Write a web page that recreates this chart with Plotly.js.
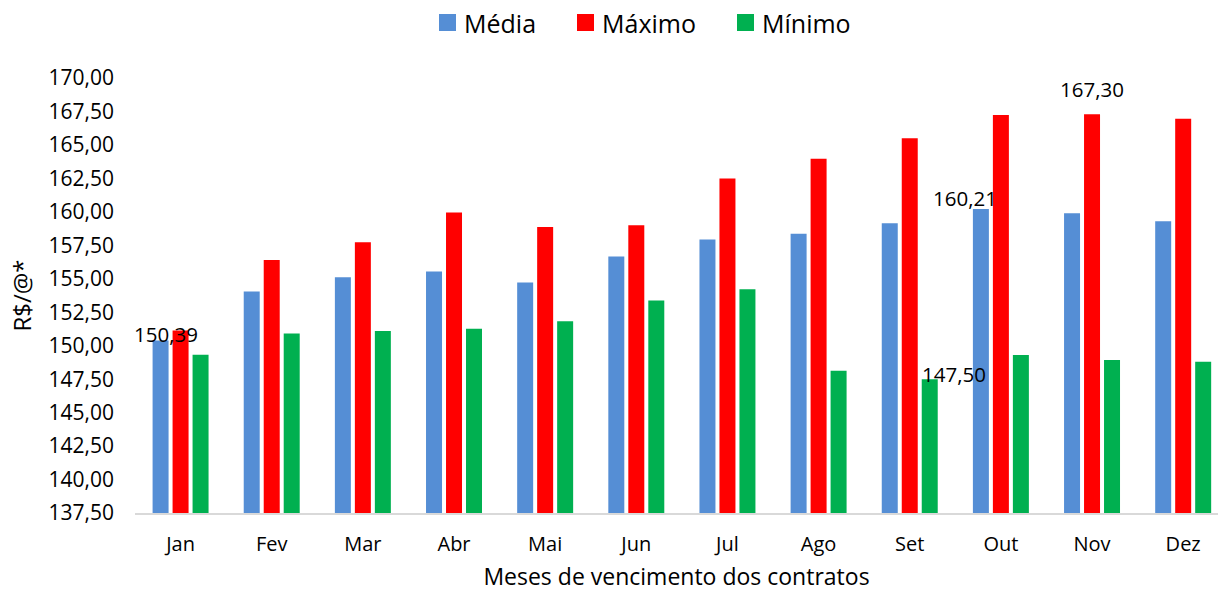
<!DOCTYPE html>
<html>
<head>
<meta charset="utf-8">
<script src="https://cdn.plot.ly/plotly-3.0.1.min.js"></script>
<style>
  html, body { margin: 0; padding: 0; background: #ffffff; }
  #chart { width: 1218px; height: 592px; }
</style>
</head>
<body>
<div id="chart"></div>
<script>
// Monthly contract prices (R$/@)
const months = ['Jan', 'Fev', 'Mar', 'Abr', 'Mai', 'Jun', 'Jul', 'Ago', 'Set', 'Out', 'Nov', 'Dez'];
const media  = [150.39, 154.05, 155.12, 155.55, 154.73, 156.67, 157.94, 158.37, 159.14, 160.21, 159.89, 159.29];
const maximo = [151.14, 156.40, 157.72, 159.96, 158.86, 158.99, 162.50, 163.97, 165.49, 167.23, 167.30, 166.96];
const minimo = [149.33, 150.92, 151.09, 151.27, 151.82, 153.38, 154.21, 148.13, 147.50, 149.30, 148.93, 148.80];
const seriesNames = ['Média', 'Máximo', 'Mínimo'];
const seriesColors = ['#558ED5', '#FF0000', '#00B050'];
const yTicks = [137.5, 140, 142.5, 145, 147.5, 150, 152.5, 155, 157.5, 160, 162.5, 165, 167.5, 170];

const FONT = 'Open Sans, Noto Sans, sans-serif';
const idx = months.map((_, i) => i);
const Y0 = 137.5;

function fmt(v) { return v.toFixed(2).replace('.', ','); }

const traces = [media, maximo, minimo].map((vals, k) => ({
  type: 'bar',
  name: seriesNames[k],
  x: idx,
  y: vals.map(v => v - Y0),
  base: Y0,
  marker: { color: seriesColors[k] },
  hoverinfo: 'skip'
}));

// Value labels placed beside selected bars: [series, month index, x offset px, y offset px]
const labelSpecs = [
  [media, 0, -15, 6],
  [media, 9, -36, 11],
  [minimo, 8, 44, 5],
  [maximo, 10, 0, 25]
];
const annotations = labelSpecs.map(([arr, i, dx, dy]) => ({
  x: i, y: arr[i], xref: 'x', yref: 'y',
  text: fmt(arr[i]),
  showarrow: false,
  xanchor: 'center', yanchor: 'middle',
  xshift: dx, yshift: dy,
  font: { family: FONT, size: 20.5, color: '#000000' }
}));

// Legend row across the top: square swatch followed by the series name
const PLOT_L = 135, PLOT_W = 1083, PLOT_T = 78, PLOT_H = 435;
const px2x = px => (px - PLOT_L) / PLOT_W;
const py2y = py => (PLOT_T + PLOT_H - py) / PLOT_H;
const legendLeft = [439, 577, 737];
const SW = 17, LEG_CY = 22.5;
const shapes = legendLeft.map((left, k) => ({
  type: 'rect', xref: 'paper', yref: 'paper',
  x0: px2x(left), x1: px2x(left + SW),
  y0: py2y(LEG_CY + SW / 2), y1: py2y(LEG_CY - SW / 2),
  fillcolor: seriesColors[k], line: { width: 0 }
}));
legendLeft.forEach((left, k) => {
  annotations.push({
    x: px2x(left + SW + 6), y: py2y(LEG_CY), xref: 'paper', yref: 'paper',
    text: seriesNames[k], showarrow: false,
    xanchor: 'left', yanchor: 'middle',
    font: { family: FONT, size: 25, color: '#000000' }
  });
});

const layout = {
  width: 1218,
  height: 592,
  margin: { l: PLOT_L, r: 0, t: PLOT_T, b: 592 - PLOT_T - PLOT_H },
  paper_bgcolor: '#ffffff',
  plot_bgcolor: '#ffffff',
  barmode: 'group',
  bargap: 0.342,
  bargroupgap: 0.2,
  separators: ',.',
  showlegend: false,
  xaxis: {
    type: 'linear',
    range: [-0.5, 11.382],
    tickmode: 'array',
    tickvals: idx,
    ticktext: months,
    showgrid: false,
    zeroline: false,
    showline: true,
    linecolor: '#D9D9D9',
    linewidth: 2,
    ticks: '',
    ticklabelstandoff: 12,
    tickfont: { family: FONT, size: 20, color: '#000000' },
    title: {
      text: 'Meses de vencimento dos contratos',
      font: { family: FONT, size: 23, color: '#000000' },
      standoff: 20
    },
    fixedrange: true
  },
  yaxis: {
    range: [Y0, 170],
    tickmode: 'array',
    tickvals: yTicks,
    ticktext: yTicks.map(fmt),
    showgrid: false,
    zeroline: false,
    showline: false,
    ticks: '',
    ticklabelstandoff: 20,
    tickfont: { family: FONT, size: 21, color: '#000000' },
    title: {
      text: 'R$/@*',
      font: { family: FONT, size: 24, color: '#000000' },
      standoff: 10
    },
    fixedrange: true
  },
  shapes: shapes,
  annotations: annotations
};

Plotly.newPlot('chart', traces, layout, { displayModeBar: false, staticPlot: true });
</script>
</body>
</html>
